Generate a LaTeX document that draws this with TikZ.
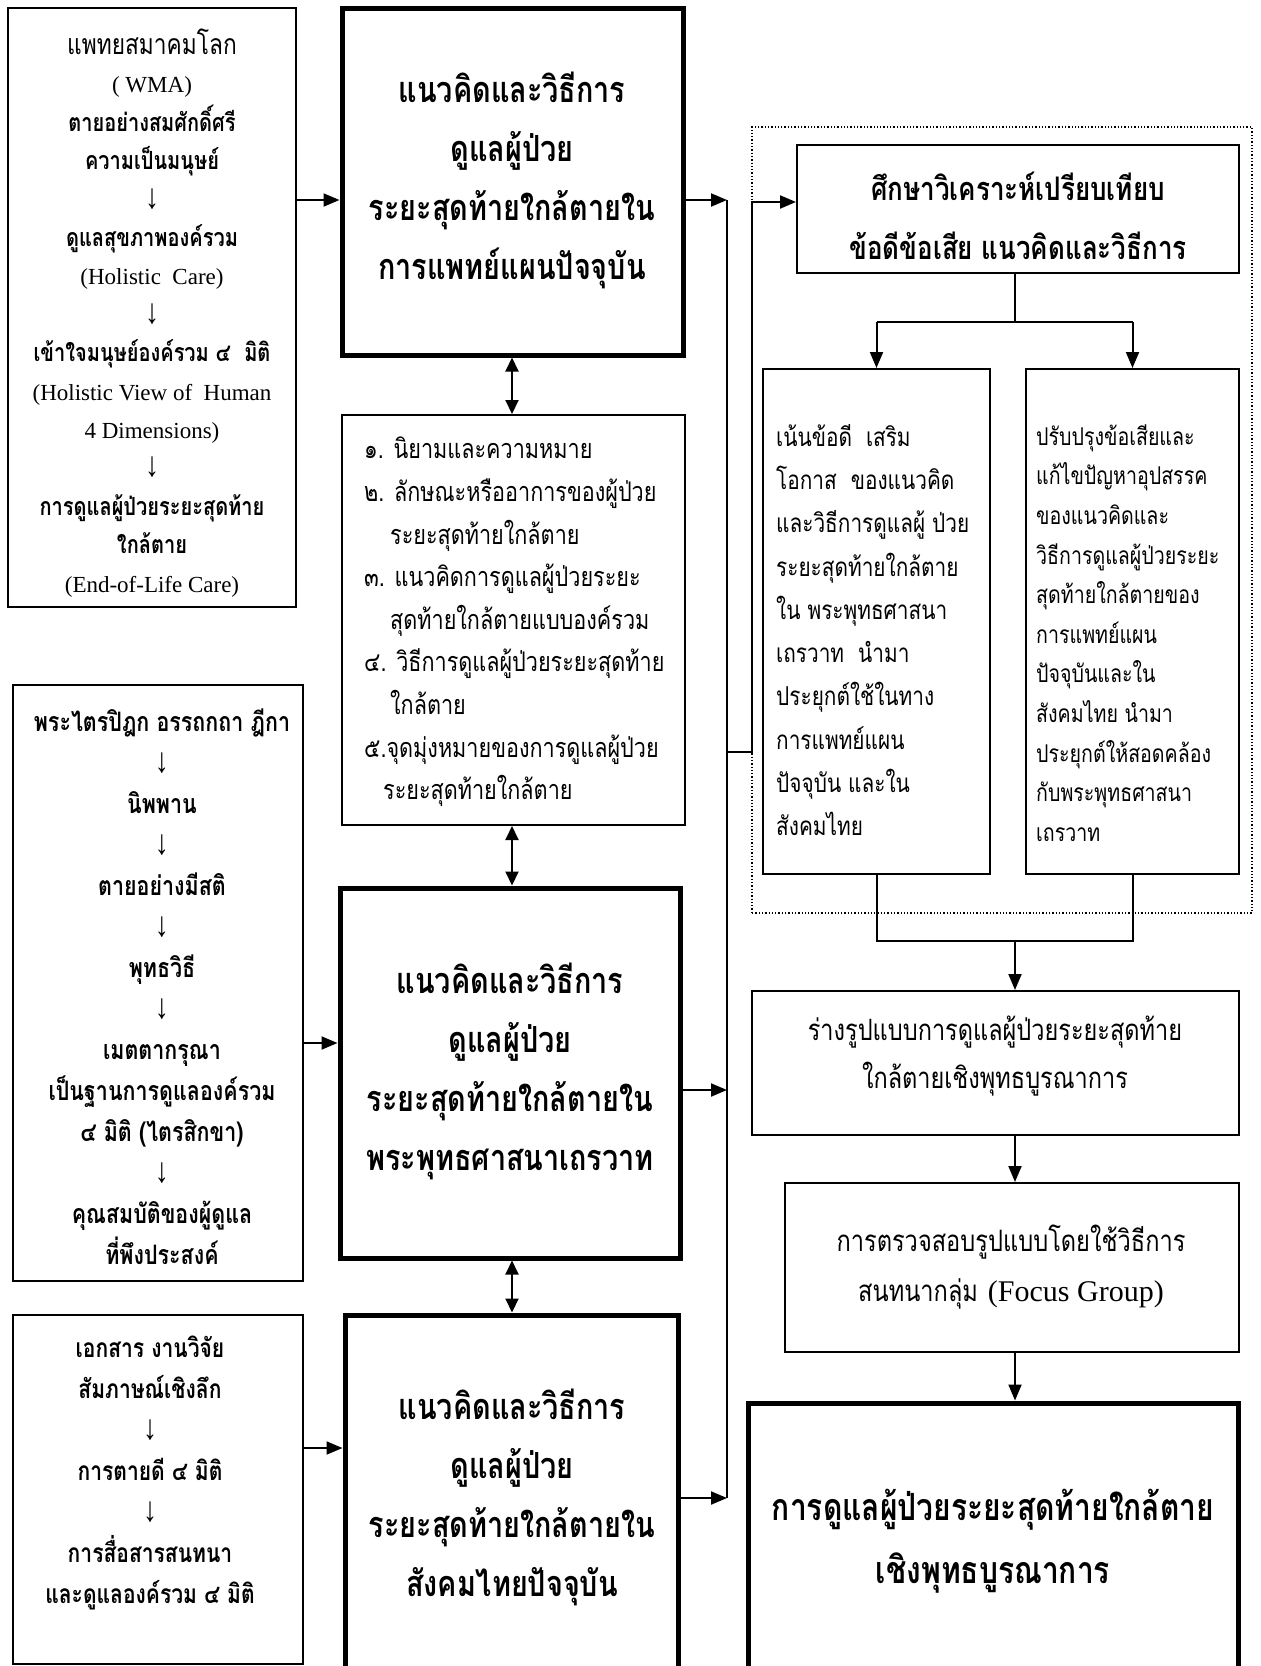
\documentclass[tikz,border=0pt]{standalone}
\usepackage{fontspec}
\usepackage{graphicx}
\setmainfont{Liberation Serif}
\newfontfamily\thaifont[Script=Thai]{Loma}
\newcommand\ThR{\thaifont}
\newcommand\ThB{\thaifont\bfseries}
\newcommand\cx[1]{\scalebox{0.8}[1]{#1}}
\newcommand\dn{{\rmfamily\mdseries\fontsize{28}{38}\selectfont\scalebox{1}[1.25]{↓}}}
\usetikzlibrary{arrows.meta}
\tikzset{
  thinbox/.style={draw, line width=2pt, inner sep=0pt},
  thickbox/.style={draw, line width=5pt, inner sep=0pt},
  grpbox/.style={draw, dotted, line width=1.3pt, inner sep=0pt},
  txt/.style={inner sep=0pt, align=center},
  ltxt/.style={inner sep=0pt, align=left, anchor=west},
  ln/.style={line width=2pt},
  arr/.style={line width=2pt, -{Triangle[length=16pt,width=13pt]}},
  dblarr/.style={line width=2pt, {Triangle[length=14pt,width=13pt]}-{Triangle[length=14pt,width=13pt]}},
}
\newcommand\mkbox[6]{\node[#2, minimum width={#5-#3}, minimum height={#6-#4}] (#1) at ({(#3+#5)/2},{(#4+#6)/2}) {};}
\begin{document}
\begin{tikzpicture}[x=1pt,y=-1pt]
\useasboundingbox (0,0) rectangle (1261,1666);
% boxes
\mkbox{A}{thinbox}{8}{8}{296}{607}
\mkbox{B}{thinbox}{13}{685}{303}{1281}
\mkbox{C}{thinbox}{13}{1315}{303}{1664}
\mkbox{M1}{thickbox}{342}{8}{683}{355}
\mkbox{L}{thinbox}{342}{415}{685}{825}
\mkbox{M2}{thickbox}{340}{888}{680}{1258}
\mkbox{M3}{thickbox}{345}{1315}{678}{1672}
\mkbox{G}{grpbox}{752}{127}{1252}{913}
\mkbox{S}{thinbox}{797}{145}{1239}{273}
\mkbox{P}{thinbox}{763}{369}{990}{874}
\mkbox{Q}{thinbox}{1026}{369}{1239}{874}
\mkbox{D}{thinbox}{752}{991}{1239}{1135}
\mkbox{E}{thinbox}{785}{1183}{1239}{1352}
\mkbox{F}{thickbox}{748}{1403}{1238}{1672}
% texts
\node[txt, font=\fontsize{25}{38.4}\selectfont] (tA) at (152,313) {%
{\ThR\fontsize{28.4}{38.4}\selectfont\cx{แพทยสมาคมโลก}}\\
{\fontsize{23}{38.4}\selectfont ( WMA)}\\
{\ThB\cx{ตายอย่างสมศักดิ์ศรี}}\\
{\ThB\cx{ความเป็นมนุษย์}}\\
\dn\\
{\ThB\cx{ดูแลสุขภาพองค์รวม}}\\
{\fontsize{23}{38.4}\selectfont (Holistic\ \ Care)}\\
\dn\\
{\ThB\cx{เข้าใจมนุษย์องค์รวม ๔\ \ มิติ}}\\
{\fontsize{23}{38.4}\selectfont (Holistic View of\ \ Human}\\
{\fontsize{23}{38.4}\selectfont 4 Dimensions)}\\
\dn\\
{\ThB\cx{การดูแลผู้ป่วยระยะสุดท้าย}}\\
{\ThB\cx{ใกล้ตาย}}\\
{\fontsize{23}{38.4}\selectfont (End-of-Life Care)}};
\node[txt, font=\ThB\fontsize{26.8}{41}\selectfont] (tB) at (162,987) {%
\cx{พระไตรปิฎก อรรถกถา ฎีกา}\\
\dn\\
\cx{นิพพาน}\\
\dn\\
\cx{ตายอย่างมีสติ}\\
\dn\\
\cx{พุทธวิธี}\\
\dn\\
\cx{เมตตากรุณา}\\
\cx{เป็นฐานการดูแลองค์รวม}\\
\cx{๔ มิติ (ไตรสิกขา)}\\
\dn\\
\cx{คุณสมบัติของผู้ดูแล}\\
\cx{ที่พึงประสงค์}};
\node[txt, font=\ThB\fontsize{26.3}{41}\selectfont] (tC) at (150,1473) {%
\cx{เอกสาร งานวิจัย}\\
\cx{สัมภาษณ์เชิงลึก}\\
\dn\\
\cx{การตายดี ๔ มิติ}\\
\dn\\
\cx{การสื่อสารสนทนา}\\
\cx{และดูแลองค์รวม ๔ มิติ}};
\node[txt, font=\ThB\fontsize{36}{59}\selectfont] (tM1) at (512,180) {\cx{แนวคิดและวิธีการ}\\\cx{ดูแลผู้ป่วย}\\\cx{ระยะสุดท้ายใกล้ตายใน}\\\cx{การแพทย์แผนปัจจุบัน}};
\node[txt, font=\ThB\fontsize{36}{59}\selectfont] (tM2) at (510,1071) {\cx{แนวคิดและวิธีการ}\\\cx{ดูแลผู้ป่วย}\\\cx{ระยะสุดท้ายใกล้ตายใน}\\\cx{พระพุทธศาสนาเถรวาท}};
\node[txt, font=\ThB\fontsize{36}{59}\selectfont] (tM3) at (512,1497) {\cx{แนวคิดและวิธีการ}\\\cx{ดูแลผู้ป่วย}\\\cx{ระยะสุดท้ายใกล้ตายใน}\\\cx{สังคมไทยปัจจุบัน}};
\node[ltxt, font=\ThR\fontsize{27}{42.6}\selectfont] (tL) at (364,622) {%
\cx{๑. นิยามและความหมาย}\\
\cx{๒. ลักษณะหรืออาการของผู้ป่วย}\\
\hspace*{26pt}\cx{ระยะสุดท้ายใกล้ตาย}\\
\cx{๓. แนวคิดการดูแลผู้ป่วยระยะ}\\
\hspace*{26pt}\cx{สุดท้ายใกล้ตายแบบองค์รวม}\\
\cx{๔. วิธีการดูแลผู้ป่วยระยะสุดท้าย}\\
\hspace*{26pt}\cx{ใกล้ตาย}\\
\cx{๕.จุดมุ่งหมายของการดูแลผู้ป่วย}\\
\hspace*{19pt}\cx{ระยะสุดท้ายใกล้ตาย}};
\node[txt, font=\ThB\fontsize{32.5}{59}\selectfont] (tS) at (1018,216) {\cx{ศึกษาวิเคราะห์เปรียบเทียบ}\\\cx{ข้อดีข้อเสีย แนวคิดและวิธีการ}};
\node[ltxt, font=\ThR\fontsize{26}{43.3}\selectfont] (tP) at (776,630) {%
\cx{เน้นข้อดี\ \ เสริม}\\
\cx{โอกาส\ \ ของแนวคิด}\\
\cx{และวิธีการดูแลผู้ ป่วย}\\
\cx{ระยะสุดท้ายใกล้ตาย}\\
\cx{ใน พระพุทธศาสนา}\\
\cx{เถรวาท\ \ นำมา}\\
\cx{ประยุกต์ใช้ในทาง}\\
\cx{การแพทย์แผน}\\
\cx{ปัจจุบัน และใน}\\
\cx{สังคมไทย}};
\node[ltxt, font=\ThR\fontsize{24.5}{39.6}\selectfont] (tQ) at (1036,633) {%
\cx{ปรับปรุงข้อเสียและ}\\
\cx{แก้ไขปัญหาอุปสรรค}\\
\cx{ของแนวคิดและ}\\
\cx{วิธีการดูแลผู้ป่วยระยะ}\\
\cx{สุดท้ายใกล้ตายของ}\\
\cx{การแพทย์แผน}\\
\cx{ปัจจุบันและใน}\\
\cx{สังคมไทย นำมา}\\
\cx{ประยุกต์ให้สอดคล้อง}\\
\cx{กับพระพุทธศาสนา}\\
\cx{เถรวาท}};
\node[txt, font=\ThR\fontsize{29.4}{48}\selectfont] (tD) at (995,1056) {\cx{ร่างรูปแบบการดูแลผู้ป่วยระยะสุดท้าย}\\\cx{ใกล้ตายเชิงพุทธบูรณาการ}};
\node[txt, font=\ThR\fontsize{29.5}{50}\selectfont] (tE) at (1011,1267) {\cx{การตรวจสอบรูปแบบโดยใช้วิธีการ}\\\cx{สนทนากลุ่ม} {\rmfamily\fontsize{30}{50}\selectfont (Focus Group)}};
\node[txt, font=\ThB\fontsize{37.5}{63}\selectfont] (tF) at (993,1541) {\cx{การดูแลผู้ป่วยระยะสุดท้ายใกล้ตาย}\\\cx{เชิงพุทธบูรณาการ}};
% connector levels
\coordinate (yA) at (0,200);
\coordinate (yB) at (0,1043);
\coordinate (yC) at (0,1448);
\coordinate (yS) at (0,202);
\coordinate (bus1) at (727,200);
\coordinate (bus2) at (727,1090);
\coordinate (bus3) at (727,1498);
\coordinate (br) at (727,752);
\coordinate (brc) at (752,752);
\coordinate (dx) at (512,0);
\coordinate (j1) at (1015,322);
\coordinate (j2) at (1015,941);
% connectors
\draw[arr] (A.east |- yA) -- (M1.west |- yA);
\draw[arr] (B.east |- yB) -- (M2.west |- yB);
\draw[arr] (C.east |- yC) -- (M3.west |- yC);
\draw[dblarr] (M1.south -| dx) -- (L.north -| dx);
\draw[dblarr] (L.south -| dx) -- (M2.north -| dx);
\draw[dblarr] (M2.south -| dx) -- (M3.north -| dx);
\draw[arr] (M1.east |- bus1) -- (bus1);
\draw[arr] (M2.east |- bus2) -- (bus2);
\draw[arr] (M3.east |- bus3) -- (bus3);
\draw[ln] (bus1) -- (bus3);
\draw[arr] (br) -- (brc) |- (S.west |- yS);
\draw[ln] (S.south -| j1) -- (j1);
\draw[ln] (P.north |- j1) -- (Q.north |- j1);
\draw[arr] (P.north |- j1) -- (P.north);
\draw[arr] (Q.north |- j1) -- (Q.north);
\draw[ln] (P.south) -- (P.south |- j2) -- (Q.south |- j2) -- (Q.south);
\draw[arr] (j2) -- (D.north -| j2);
\draw[arr] (D.south -| j2) -- (E.north -| j2);
\draw[arr] (E.south -| j2) -- (F.north -| j2);
\end{tikzpicture}
\end{document}
